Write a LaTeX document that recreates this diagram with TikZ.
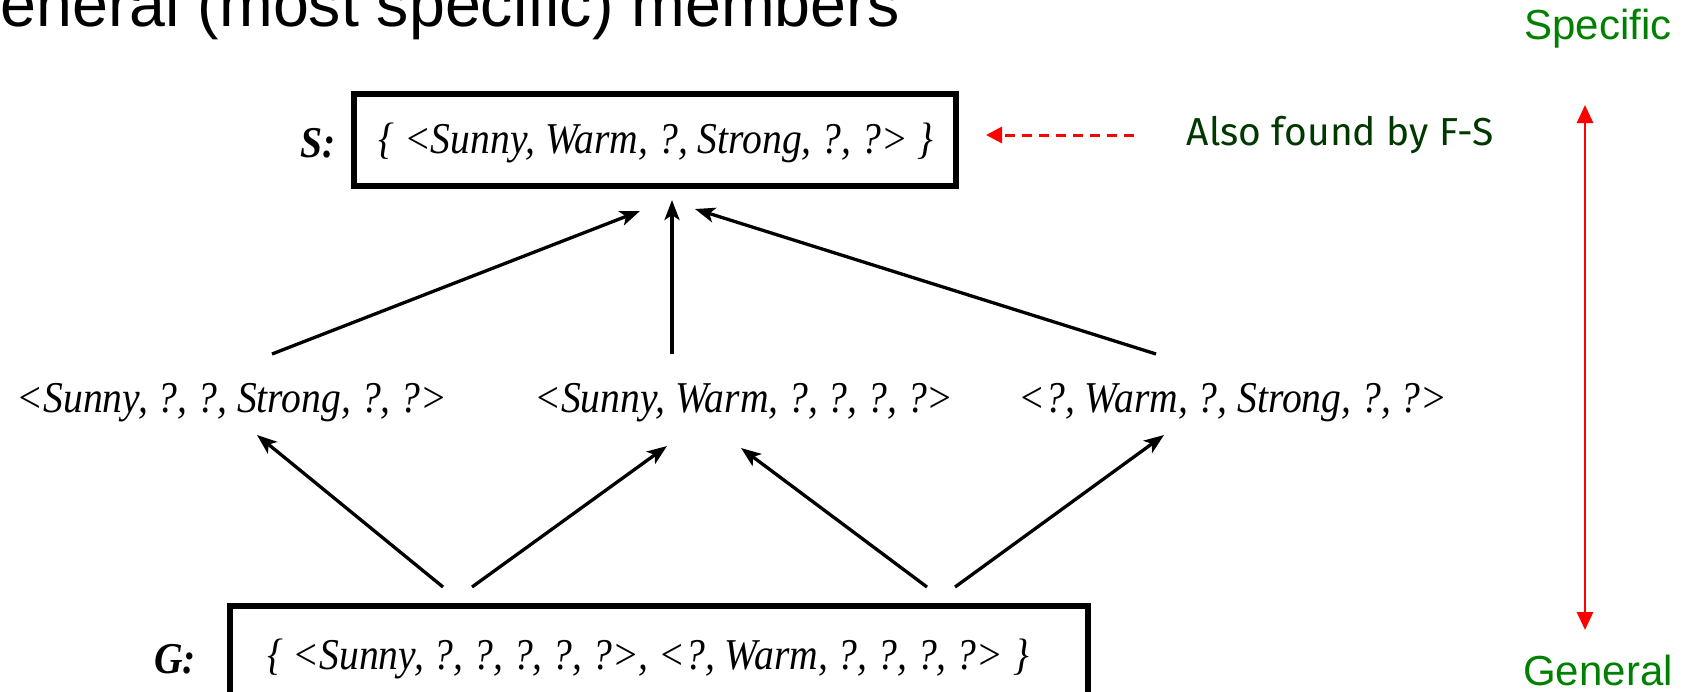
\documentclass[tikz,border=0pt]{standalone}
\usepackage{fontspec}
\setmainfont{Liberation Serif}
\newfontfamily\hypf[FakeStretch=0.9]{Liberation Serif}
\newfontfamily\arialf{Liberation Sans}
\newfontfamily\comicf{Fira Sans}
\usetikzlibrary{arrows.meta,calc}
\definecolor{slgreen}{RGB}{0,128,0}
\definecolor{dkgreen}{RGB}{0,56,0}
\begin{document}
\begin{tikzpicture}[x=1pt,y=-1pt,
  hyp/.style={font=\hypf\fontsize{44}{52}\selectfont\itshape, inner sep=0pt},
  boxnode/.style={draw, line width=6pt, inner sep=0pt},
  lab/.style={font=\hypf\fontsize{44}{52}\selectfont\bfseries\itshape, inner sep=0pt},
  arr/.style={line width=3.3pt, -{Stealth[length=20pt,width=15pt,inset=5pt]}},
  reddash/.style={red, line width=3pt, dash pattern=on 10pt off 7pt, -{Triangle[length=16pt,width=16pt]}},
  redarr/.style={red, line width=2.8pt, {Triangle[length=18pt,width=16pt]}-{Triangle[length=18pt,width=16pt]}},
  sidelab/.style={font=\arialf\fontsize{42}{48}\selectfont, text=slgreen, inner sep=0pt}
]
\useasboundingbox (0,0) rectangle (1694,691);

% title
\node[anchor=base west, inner sep=0pt, font=\arialf\fontsize{64.5}{70}\selectfont] (title) at (0.5,26) {eneral (most specific) members};

% S box
\node[boxnode, minimum width=602pt, minimum height=92pt] (S) at (655,140) {};
\node[hyp] (St) at (656,143) {\{ <Sunny, Warm, ?, Strong, ?, ?> \}};
\node[lab, anchor=east] (Sl) at (336,143) {S:};

% middle row
\node[hyp] (m1) at (232,403) {<Sunny, ?, ?, Strong, ?, ?>};
\node[hyp] (m2) at (744,403) {<Sunny, Warm, ?, ?, ?, ?>};
\node[hyp] (m3) at (1233,403) {<?, Warm, ?, Strong, ?, ?>};

% G box
\node[boxnode, minimum width=858pt, minimum height=106pt] (G) at (659,659) {};
\node[hyp] (Gt) at (648,659) {\{ <Sunny, ?, ?, ?, ?, ?>, <?, Warm, ?, ?, ?, ?> \}};
\node[lab, anchor=east] (Gl) at (196,659) {G:};

% arrows to S
\draw[arr] ([shift={(40,-49)}]m1.center) -- ([shift={(-15,71)}]S.center);
\draw[arr] ([shift={(-72,-49)}]m2.center) -- ([shift={(17,60)}]S.center);
\draw[arr] ([shift={(-77,-49)}]m3.center) -- ([shift={(40,69)}]S.center);

% arrows from G
\draw[arr] ([shift={(-216,-72)}]G.center) -- ([shift={(25,32)}]m1.center);
\draw[arr] ([shift={(-187,-72)}]G.center) -- ([shift={(-77,43)}]m2.center);
\draw[arr] ([shift={(268,-72)}]G.center) -- ([shift={(-3,45)}]m2.center);
\draw[arr] ([shift={(296,-72)}]G.center) -- ([shift={(-69,32)}]m3.center);

% annotation
\node[inner sep=0pt, font=\comicf\fontsize{39}{44}\selectfont, text=dkgreen] (also) at (1340,135) {Also found by F-S};
\draw[reddash] ([xshift=-53pt]also.west) -- ([shift={(27,-5)}]S.east);

% side scale
\node[sidelab] (spec) at (1598,29) {Specific};
\node[sidelab] (gen) at (1598,670) {General};
\draw[redarr] ([shift={(-13,76)}]spec.center) -- ([shift={(-13,-40)}]gen.center);
\end{tikzpicture}
\end{document}
